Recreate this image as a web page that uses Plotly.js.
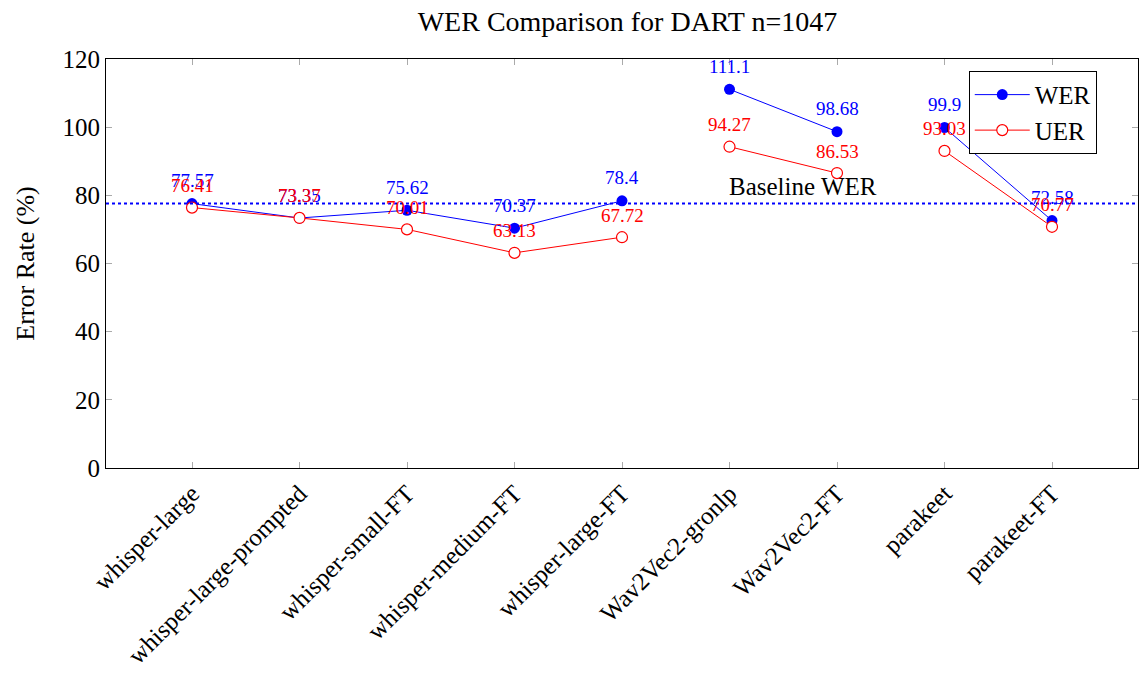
<!DOCTYPE html>
<html>
<head>
<meta charset="utf-8">
<script src="https://cdn.plot.ly/plotly-3.0.1.min.js"></script>
<style>html,body{margin:0;padding:0;background:#fff;}#chart{width:1145px;height:677px;}</style>
</head>
<body>
<div id="chart"></div>
<script>
const categories = ["whisper-large","whisper-large-prompted","whisper-small-FT","whisper-medium-FT","whisper-large-FT","Wav2Vec2-gronlp","Wav2Vec2-FT","parakeet","parakeet-FT"];
const werValues = [77.57, 73.35, 75.62, 70.37, 78.4, 111.1, 98.68, 99.9, 72.58];
const uerValues = [76.41, 73.37, 70.01, 63.13, 67.72, 94.27, 86.53, 93.03, 70.77];
const lineGroups = [[0,1,2,3,4],[5,6],[7,8]];
const baselineWER = 77.57;
const yTicks = [0,20,40,60,80,100,120];

const FONT = "Liberation Serif, Times New Roman, serif";
const BLUE = "#0000ff", RED = "#ff0000";

const traces = [];
lineGroups.forEach((g, gi) => {
  traces.push({
    type: "scatter", mode: "lines+markers", name: "WER", legendgroup: "WER",
    showlegend: gi === 0,
    x: g.map(i => i), y: g.map(i => werValues[i]),
    line: {color: BLUE, width: 1},
    marker: {color: BLUE, size: 11, symbol: "circle"}
  });
});
lineGroups.forEach((g, gi) => {
  traces.push({
    type: "scatter", mode: "lines+markers", name: "UER", legendgroup: "UER",
    showlegend: gi === 0,
    x: g.map(i => i), y: g.map(i => uerValues[i]),
    line: {color: RED, width: 1},
    marker: {color: "#ffffff", size: 11, symbol: "circle", line: {color: RED, width: 1.2}}
  });
});

const annotations = [];
categories.forEach((c, i) => {
  annotations.push({x: i, y: werValues[i], text: String(werValues[i]), showarrow: false,
    yshift: 23, font: {family: FONT, size: 19, color: BLUE}});
  annotations.push({x: i, y: uerValues[i], text: String(uerValues[i]), showarrow: false,
    yshift: 22, font: {family: FONT, size: 19, color: RED}});
});
annotations.push({x: 5.68, y: baselineWER, text: "Baseline WER", showarrow: false,
  yshift: 17, font: {family: FONT, size: 25, color: "#000"}});

const layout = {
  width: 1145, height: 677,
  margin: {l: 106, r: 7, t: 59, b: 209},
  paper_bgcolor: "#fff", plot_bgcolor: "#fff",
  font: {family: FONT, color: "#000"},
  title: {text: "WER Comparison for DART n=1047", font: {family: FONT, size: 28, color: "#000"},
    x: 0.548, xanchor: "center", y: 0.968, yanchor: "middle", yref: "container"},
  xaxis: {
    range: [-0.8, 8.8], tickmode: "array", tickvals: categories.map((c, i) => i), ticktext: categories,
    tickangle: -45, tickfont: {family: FONT, size: 25, color: "#000"},
    ticks: "inside", ticklen: 6, tickcolor: "#aaa", tickwidth: 1,
    showline: true, linecolor: "#000", linewidth: 1, mirror: "ticks",
    showgrid: false, zeroline: false
  },
  yaxis: {
    range: [0, 120], tickmode: "array", tickvals: yTicks,
    tickfont: {family: FONT, size: 25, color: "#000"},
    ticks: "inside", ticklen: 6, tickcolor: "#aaa", tickwidth: 1,
    showline: true, linecolor: "#000", linewidth: 1, mirror: "ticks",
    showgrid: false, zeroline: false,
    title: {text: "Error Rate (%)", font: {family: FONT, size: 26, color: "#000"}, standoff: 20}
  },
  shapes: [{type: "line", xref: "paper", x0: 0, x1: 1, yref: "y", y0: baselineWER, y1: baselineWER,
    line: {color: BLUE, width: 2, dash: "dot"}}],
  annotations: annotations,
  legend: {x: 0.836, y: 0.971, xanchor: "left", yanchor: "top", bgcolor: "#fff",
    bordercolor: "#000", borderwidth: 1, font: {family: FONT, size: 25, color: "#000"},
    tracegroupgap: 0, itemwidth: 55},
  showlegend: true
};

Plotly.newPlot("chart", traces, layout, {displayModeBar: false, staticPlot: true});
</script>
</body>
</html>
